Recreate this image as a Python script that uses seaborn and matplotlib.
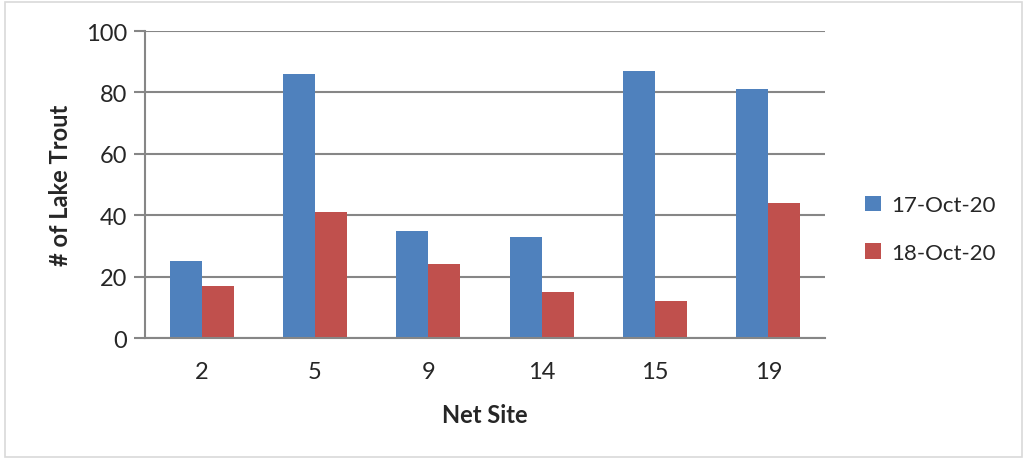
import pandas as pd
import matplotlib.pyplot as plt
import seaborn as sns
from matplotlib.patches import Rectangle

sites = ["2", "5", "9", "14", "15", "19"]
oct17 = [25, 86, 35, 33, 87, 81]
oct18 = [17, 41, 24, 15, 12, 44]
dates = ["17-Oct-20", "18-Oct-20"]

df = pd.DataFrame({
    "Net Site": sites * 2,
    "count": oct17 + oct18,
    "date": [dates[0]] * len(sites) + [dates[1]] * len(sites),
})

sns.set_style("white")
plt.rcParams['font.family'] = ['Lato', 'DejaVu Sans']

fig = plt.figure(figsize=(10.29, 4.6), dpi=100)
ax = fig.add_axes([0.1409, 0.263, 0.6608, 0.6674])

sns.barplot(data=df, x="Net Site", y="count", hue="date", order=sites,
            palette=["#4F81BD", "#C0504D"], width=0.565, gap=0,
            saturation=1, ax=ax, edgecolor="none")

grid_c = "#868686"
ax.set_ylim(0, 100)
ax.set_yticks(range(0, 101, 20))
ax.yaxis.grid(True, color=grid_c, linewidth=1.5)
ax.set_axisbelow(True)
for s in ["top", "right"]:
    ax.spines[s].set_visible(False)
ax.spines["left"].set_color(grid_c)
ax.spines["left"].set_linewidth(1.5)
ax.spines["bottom"].set_color(grid_c)
ax.spines["bottom"].set_linewidth(1.5)
ax.tick_params(axis="y", which="major", left=True, length=8, width=1.5,
               color=grid_c, labelsize=17, pad=5)
ax.tick_params(axis="x", bottom=False, labelsize=17, pad=13)

ax.set_xlabel("Net Site", fontsize=17, fontweight="bold", labelpad=15)
ax.set_ylabel("# of Lake Trout", fontsize=17, fontweight="bold", labelpad=10)

ax.legend(loc="center left", bbox_to_anchor=(1.03, 0.355), frameon=False,
          fontsize=16, handlelength=0.7, handleheight=0.7,
          handletextpad=0.45, labelspacing=1.25)

fig.patches.append(Rectangle((0.005, 0.004), 0.988, 0.99, transform=fig.transFigure,
                             fill=False, edgecolor="#d9d9d9", linewidth=1.2))

fig.savefig("out.png", dpi=100)
